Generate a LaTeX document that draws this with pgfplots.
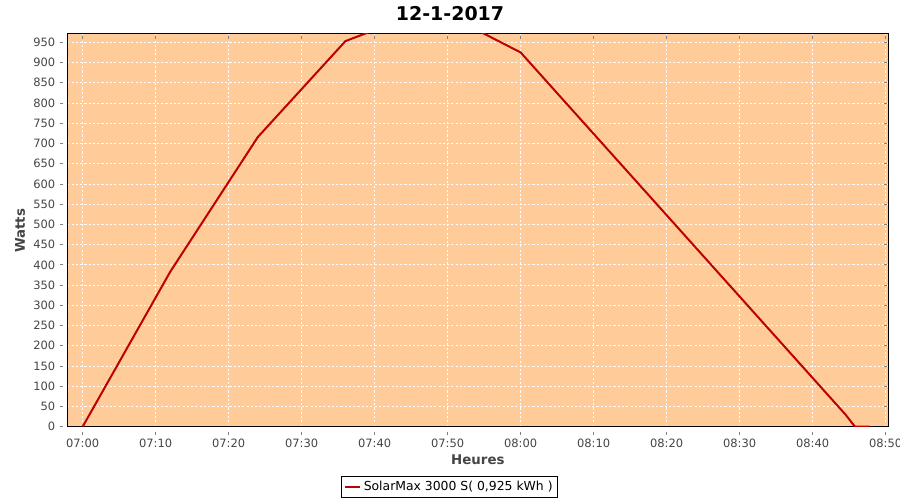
\documentclass[border=0pt]{standalone}
\usepackage{pgfplots}
\pgfplotsset{compat=1.18}
\usepackage{fontspec}
\setmainfont{DejaVu Sans}
\definecolor{bgpeach}{RGB}{255,204,153}
\definecolor{linered}{RGB}{190,0,0}
\definecolor{ticktext}{RGB}{68,68,68}
\begin{document}
\begin{tikzpicture}
\path[use as bounding box] (0,0) rectangle (675pt,375pt);
\begin{axis}[
  at={(50.5pt,55pt)}, anchor=south west,
  width=615.9pt, height=294.5pt, scale only axis,
  xmin=-2.1, xmax=110.4, ymin=0, ymax=970.6,
  axis background/.style={fill=bgpeach},
  axis line style={black, line width=0.75pt},
  xtick={0,10,...,110},
  xticklabels={07:00,07:10,07:20,07:30,07:40,07:50,08:00,08:10,08:20,08:30,08:40,08:50},
  ytick={0,50,...,950},
  /pgf/number format/assume math mode=true,
  ticklabel style={font=\fontsize{8.6pt}{10pt}\selectfont, text=ticktext},
  tick align=outside, major tick length=2.2pt,
  xtick style={yshift=-3.75pt, gray, line width=0.6pt},
  ytick style={xshift=-3.4pt, gray, line width=0.6pt},
  xticklabel shift=3.75pt, yticklabel shift=3.4pt,
  grid=major,
  grid style={white, line width=0.6pt, dash pattern=on 1.6pt off 1.6pt},
  legend style={at={(0.4654,-0.1536)}, anchor=center, draw=black, line width=0.6pt,
    font=\fontsize{9.3pt}{11pt}\selectfont, inner xsep=1.5pt, inner ysep=1.8pt, row sep=0pt,
    /tikz/every even column/.style={column sep=2pt}},
  legend image code/.code={\draw[#1, line width=1.5pt] (0pt,0pt) -- (11.5pt,0pt);},
]
\addplot[linered, line width=1.5pt] coordinates {
(0,0) (12,383) (24,716) (36,953) (48,1036) (60,925) (104.5,30) (105.8,0) (107.8,0)
};
\addlegendentry{SolarMax 3000 S( 0,925 kWh )}
\draw[gray, line width=0.6pt] ([xshift=-3.4pt]rel axis cs:0,0) -- ([xshift=-3.4pt]rel axis cs:0,1);
\draw[gray, line width=0.6pt] ([yshift=-3.75pt]rel axis cs:0,0) -- ([yshift=-3.75pt]rel axis cs:1,0);
\end{axis}
\node[font=\bfseries\fontsize{14.25pt}{16pt}\selectfont] at (337.5pt,365pt) {12-1-2017};
\node[font=\bfseries\fontsize{10pt}{12pt}\selectfont, text=ticktext, rotate=90] at (15pt,202pt) {Watts};
\node[font=\bfseries\fontsize{10pt}{12pt}\selectfont, text=ticktext] at (358.4pt,30pt) {Heures};
\end{tikzpicture}
\end{document}
